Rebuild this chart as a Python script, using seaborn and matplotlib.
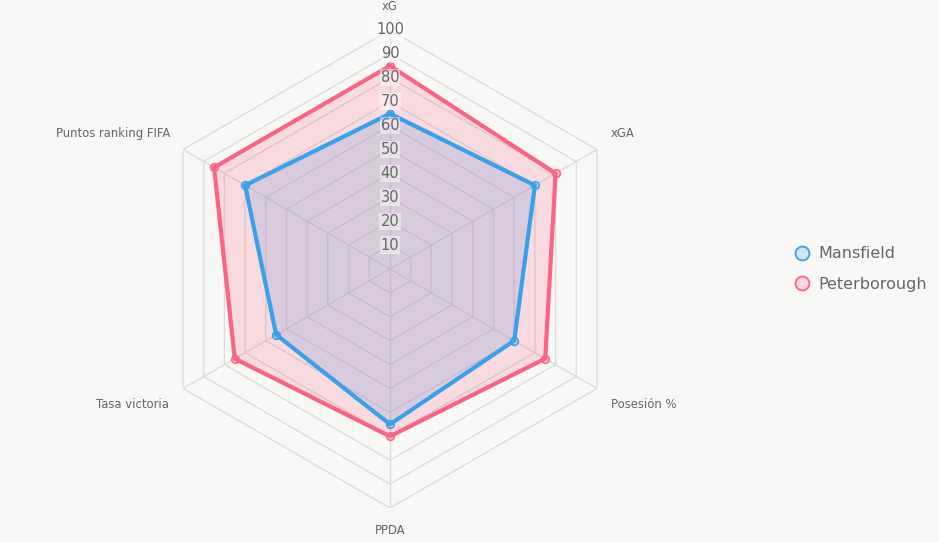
import numpy as np
import pandas as pd
import matplotlib
matplotlib.use("Agg")
import matplotlib.pyplot as plt
from matplotlib.lines import Line2D
import seaborn as sns

categories = ["xG", "xGA", "Posesión %", "PPDA", "Tasa victoria", "Puntos ranking FIFA"]
teams = ["Mansfield", "Peterborough"]
mansfield = [65, 70, 60, 65, 55, 70]
peterborough = [85, 80, 75, 70, 75, 85]
ticks = [10, 20, 30, 40, 50, 60, 70, 80, 90, 100]

colors = {"Mansfield": "#36A2EB", "Peterborough": "#FF6384"}
bg = "#f8f8f6"

sns.set_theme(style="white")
plt.rcParams["font.family"] = ["DejaVu Sans"]

fig = plt.figure(figsize=(9.39, 5.42), dpi=100)
fig.patch.set_facecolor(bg)
ax = fig.add_axes([151 / 939, 34 / 542, 478 / 939, 478 / 542], projection="polar")
ax.set_facecolor(bg)
ax.set_theta_zero_location("N")
ax.set_theta_direction(-1)
ax.set_ylim(0, 100)
ax.set_axis_off()

n = len(categories)
angles = np.linspace(0, 2 * np.pi, n, endpoint=False)
closed = np.concatenate([angles, angles[:1]])

grid_c = "#dcdcdc"
for v in ticks:
    ax.plot(closed, [v] * (n + 1), color=grid_c, lw=1, zorder=0)
for a in angles:
    ax.plot([a, a], [0, 100], color=grid_c, lw=1, zorder=0)

rows = []
for team, vals in zip(teams, [mansfield, peterborough]):
    vv = list(vals) + [vals[0]]
    for i, (a, v) in enumerate(zip(closed, vv)):
        rows.append({"team": team, "theta": a, "value": v, "order": i})
df = pd.DataFrame(rows)

for team in teams:
    d = df[df.team == team]
    ax.fill(d.theta, d.value, color=colors[team], alpha=0.2, lw=0, zorder=1)

sns.lineplot(data=df, x="theta", y="value", hue="team", units="team", estimator=None,
             sort=False, palette=colors, lw=3, ax=ax, legend=False, zorder=3)
for team in teams:
    d = df[(df.team == team) & (df.order < n)]
    ax.scatter(d.theta, d.value, s=30, facecolor=matplotlib.colors.to_rgba(colors[team], 0.2),
               edgecolor=colors[team], lw=1.2, zorder=4)
ax.set_xlabel("")
ax.set_ylabel("")

for v in ticks:
    ax.text(0, v, str(v), ha="center", va="center", fontsize=10.5, color="#666666", zorder=5,
            bbox=dict(facecolor="white", alpha=0.45, edgecolor="none", pad=0.8))

offsets = [(0, 24, "center"), (14, 16, "left"), (14, -16, "left"),
           (0, -22, "center"), (-14, -16, "right"), (-13, 16, "right")]
for a, lab, (dx, dy, ha) in zip(angles, categories, offsets):
    ax.annotate(lab, xy=(a, 100), xytext=(dx, dy), textcoords="offset pixels",
                ha=ha, va="center", fontsize=8.4, color="#666666", annotation_clip=False)

handles = [Line2D([], [], marker="o", ls="none", markersize=10,
                  markerfacecolor=matplotlib.colors.to_rgba(colors[t], 0.2),
                  markeredgecolor=colors[t], markeredgewidth=1.3) for t in teams]
leg = fig.legend(handles, teams, loc="center left", bbox_to_anchor=(778 / 939, 1 - 269 / 542),
                 frameon=False, fontsize=11.5, labelspacing=0.95, handletextpad=0.45,
                 handlelength=1.2)
for t in leg.get_texts():
    t.set_color("#666666")

fig.savefig("out.png", dpi=100, facecolor=bg)
